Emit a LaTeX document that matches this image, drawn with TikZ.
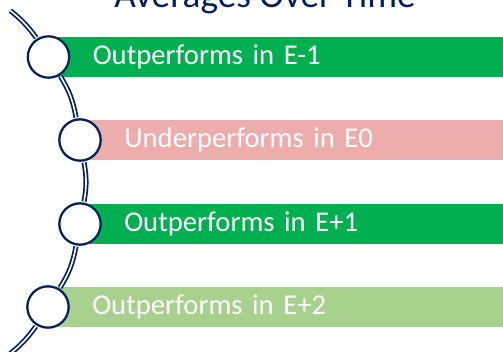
\documentclass[tikz,border=0pt]{standalone}
\usepackage{fontspec}
\setmainfont{Carlito}
\definecolor{navy}{HTML}{002060}
\definecolor{outgreen}{HTML}{00B050}
\definecolor{undpink}{HTML}{EDADAD}
\definecolor{litegreen}{HTML}{A9D18E}
\tikzset{
  headline/.style={anchor=base, text=navy, font=\fontsize{28}{34}\selectfont},
  bar/.style={rectangle, anchor=west, minimum height=30pt, text width=380pt,
    inner xsep=33pt, inner ysep=0pt, align=left, text=white,
    font=\fontsize{21.5}{26}\selectfont},
  bead/.style={circle, draw=navy, line width=1.7pt, fill=white,
    minimum size=31pt, inner sep=0pt},
  track/.style={draw=navy, line width=1.3pt, double=white, double distance=1.2pt,
    shorten <=0.8pt, shorten >=0.8pt}
}
\begin{document}
\begin{tikzpicture}[x=0.75pt, y=0.75pt]
    \useasboundingbox (0,0) rectangle (503,351);
    \clip (0,0) rectangle (503,351);
    \node[headline] (title) at (265,343) {Averages Over Time};
    % bars
    \node[bar, fill=outgreen] (em1) at (48.5,294) {Outperforms in E-1};
    \node[bar, fill=undpink] (e0) at (80,211) {Underperforms in E0};
    \node[bar, fill=outgreen] (ep1) at (80,127) {Outperforms in E+1};
    \node[bar, fill=litegreen] (ep2) at (48,44) {Outperforms in E+2};
    % beads on the track
    \node[bead] (c1) at (48.5,294) {};
    \node[bead] (c2) at (80,211) {};
    \node[bead] (c3) at (80,127) {};
    \node[bead] (c4) at (48,44) {};
    \coordinate (top) at (9.6,341);
    \coordinate (bottom) at (8.6,-4);
    \draw[track] (top) to[bend left=7.4] (c1);
    \draw[track] (c1) to[bend left=10.8] (c2);
    \draw[track] (c2) to[bend left=10.2] (c3);
    \draw[track] (c3) to[bend left=10.8] (c4);
    \draw[track] (c4) to[bend left=7.5] (bottom);
\end{tikzpicture}
\end{document}
